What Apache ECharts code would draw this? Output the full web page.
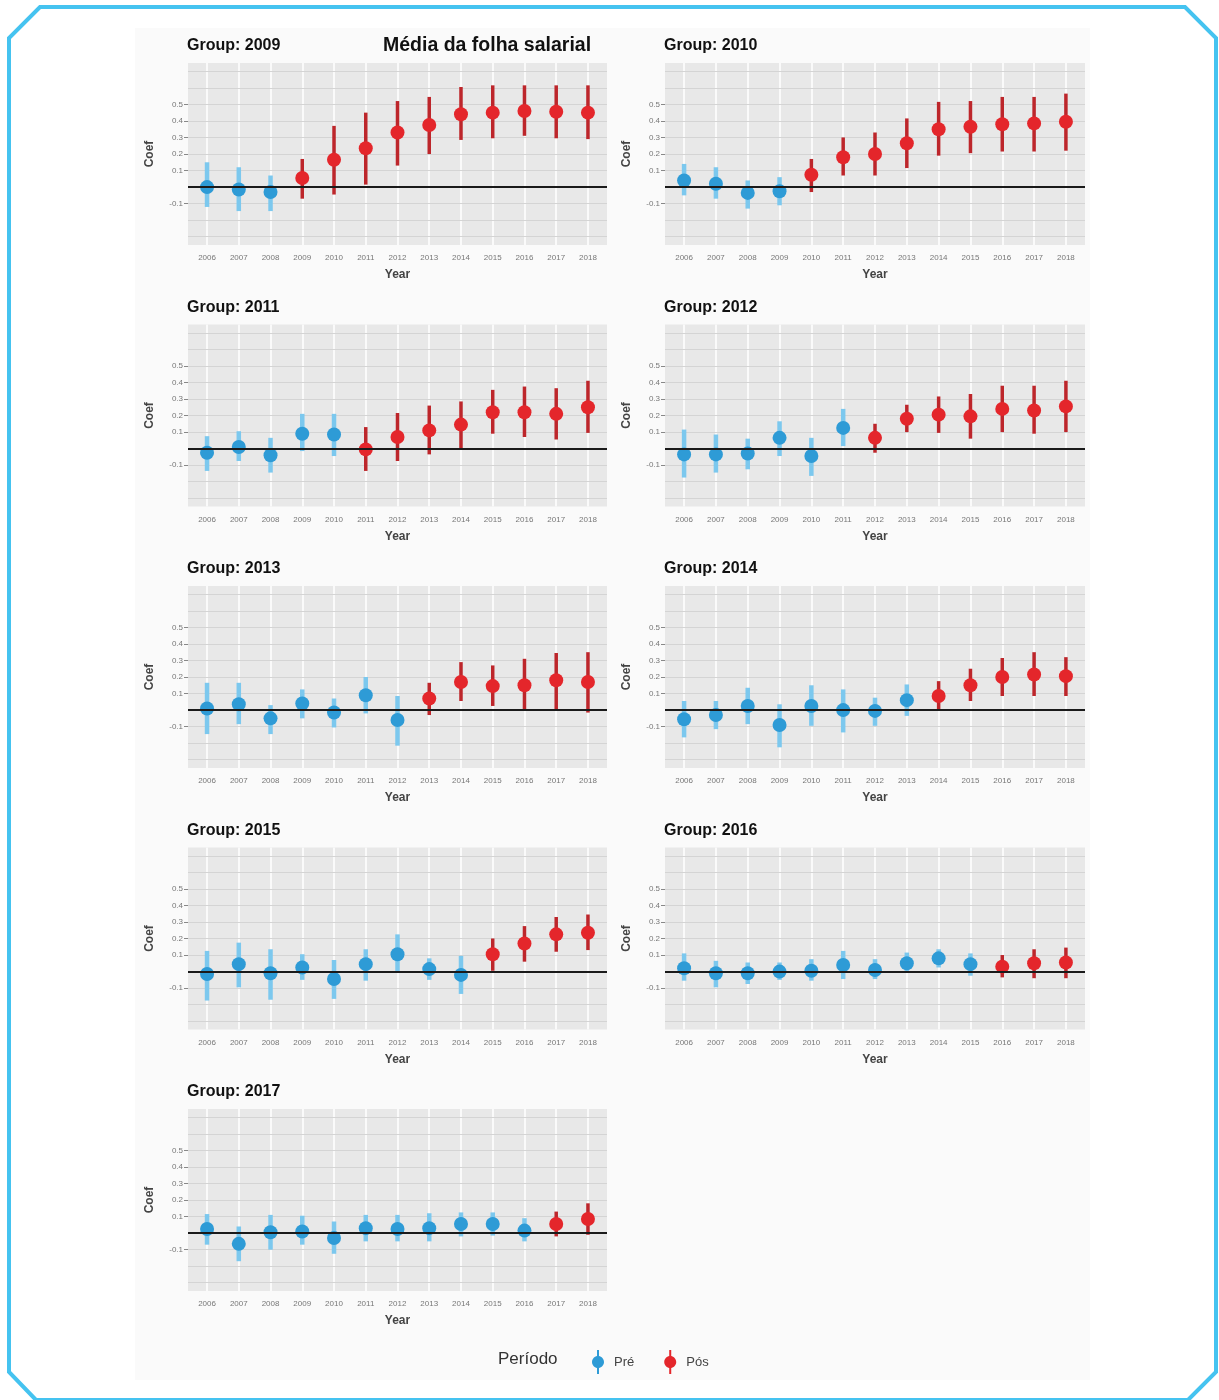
<!DOCTYPE html>
<html>
<head>
<meta charset="utf-8">
<script src="https://cdn.jsdelivr.net/npm/echarts@6/dist/echarts.min.js"></script>
<style>
html,body{margin:0;padding:0;background:#fff;}
#chart{width:1219px;height:1400px;}
</style>
</head>
<body>
<div id="chart"></div>
<script>
// ---------- DATA ----------
const years = [2006,2007,2008,2009,2010,2011,2012,2013,2014,2015,2016,2017,2018];
const groups = [2009,2010,2011,2012,2013,2014,2015,2016,2017];
const yTickValues = [-0.1,0.1,0.2,0.3,0.4,0.5];
const yMajorGrid = [-0.3,-0.2,-0.1,0.1,0.2,0.3,0.4,0.5,0.6,0.7];

const coef2009  = [0.00,-0.015,-0.03,0.055,0.165,0.235,0.33,0.375,0.44,0.45,0.46,0.455,0.45];
const lower2009 = [-0.12,-0.145,-0.145,-0.07,-0.045,0.015,0.13,0.20,0.285,0.295,0.31,0.295,0.29];
const upper2009 = [0.15,0.12,0.07,0.17,0.37,0.45,0.52,0.545,0.605,0.615,0.615,0.615,0.615];

const coef2010  = [0.04,0.02,-0.035,-0.025,0.075,0.18,0.20,0.265,0.35,0.365,0.38,0.385,0.395];
const lower2010 = [-0.05,-0.07,-0.13,-0.11,-0.03,0.07,0.07,0.115,0.19,0.205,0.215,0.215,0.22];
const upper2010 = [0.14,0.12,0.04,0.06,0.17,0.30,0.33,0.415,0.515,0.52,0.545,0.545,0.565];

const coef2011  = [-0.025,0.01,-0.04,0.09,0.085,-0.005,0.07,0.11,0.145,0.22,0.22,0.21,0.25];
const lower2011 = [-0.135,-0.075,-0.145,-0.015,-0.045,-0.135,-0.075,-0.035,-0.005,0.09,0.07,0.055,0.095];
const upper2011 = [0.075,0.105,0.065,0.21,0.21,0.13,0.215,0.26,0.285,0.355,0.375,0.365,0.41];

const coef2012  = [-0.035,-0.035,-0.03,0.065,-0.045,0.125,0.065,0.18,0.205,0.195,0.24,0.23,0.255];
const lower2012 = [-0.175,-0.145,-0.125,-0.045,-0.165,0.015,-0.025,0.10,0.095,0.06,0.10,0.09,0.10];
const upper2012 = [0.115,0.085,0.06,0.165,0.065,0.24,0.15,0.265,0.315,0.33,0.38,0.38,0.41];

const coef2013  = [0.01,0.035,-0.05,0.04,-0.015,0.09,-0.06,0.07,0.17,0.145,0.15,0.18,0.17];
const lower2013 = [-0.145,-0.085,-0.145,-0.05,-0.105,-0.02,-0.215,-0.03,0.055,0.025,0.005,0.005,-0.015];
const upper2013 = [0.165,0.165,0.03,0.125,0.07,0.20,0.085,0.165,0.29,0.27,0.31,0.345,0.35];

const coef2014  = [-0.055,-0.03,0.025,-0.09,0.025,0.00,-0.005,0.06,0.085,0.15,0.20,0.215,0.205];
const lower2014 = [-0.165,-0.115,-0.085,-0.225,-0.095,-0.135,-0.095,-0.035,0.00,0.055,0.085,0.085,0.085];
const upper2014 = [0.055,0.055,0.135,0.035,0.15,0.125,0.075,0.155,0.175,0.25,0.315,0.35,0.32];

const coef2015  = [-0.015,0.045,-0.01,0.025,-0.045,0.045,0.105,0.015,-0.02,0.105,0.17,0.225,0.235];
const lower2015 = [-0.175,-0.095,-0.17,-0.05,-0.165,-0.055,-0.005,-0.05,-0.135,0.005,0.06,0.12,0.13];
const upper2015 = [0.125,0.175,0.135,0.105,0.07,0.135,0.225,0.08,0.095,0.20,0.275,0.33,0.345];

const coef2016  = [0.02,-0.01,-0.01,0.00,0.005,0.04,0.01,0.05,0.08,0.045,0.03,0.05,0.055];
const lower2016 = [-0.055,-0.095,-0.075,-0.05,-0.055,-0.045,-0.045,-0.005,0.025,-0.025,-0.035,-0.04,-0.04];
const upper2016 = [0.11,0.065,0.055,0.055,0.075,0.125,0.075,0.115,0.135,0.11,0.10,0.135,0.145];

const coef2017  = [0.025,-0.065,0.005,0.01,-0.03,0.03,0.025,0.03,0.055,0.055,0.015,0.055,0.085];
const lower2017 = [-0.07,-0.17,-0.10,-0.07,-0.125,-0.05,-0.05,-0.05,-0.02,-0.015,-0.05,-0.02,-0.01];
const upper2017 = [0.115,0.04,0.11,0.105,0.07,0.11,0.11,0.12,0.125,0.125,0.09,0.13,0.18];

const panelCoef  = [coef2009,coef2010,coef2011,coef2012,coef2013,coef2014,coef2015,coef2016,coef2017];
const panelLower = [lower2009,lower2010,lower2011,lower2012,lower2013,lower2014,lower2015,lower2016,lower2017];
const panelUpper = [upper2009,upper2010,upper2011,upper2012,upper2013,upper2014,upper2015,upper2016,upper2017];

// ---------- STYLE ----------
const FONT = "'Liberation Sans', Arial, sans-serif";
const BLUE = '#2e9bd6', BLUE_BAR = '#7cc8ee';
const RED = '#e4262b', RED_BAR = '#bd262b';

const chart = echarts.init(document.getElementById('chart'));

const grids = [], xAxes = [], yAxes = [], series = [], titles = [];
const colLeft = [188, 665], colWidth = [419, 420];
const rowTop0 = 63, rowStep = 261.5, plotH = 182;

function errRender(color, width) {
  return function (params, api) {
    const x = api.value(0), lo = api.value(1), hi = api.value(2);
    const p1 = api.coord([x, lo]);
    const p2 = api.coord([x, hi]);
    return {
      type: 'line',
      shape: { x1: p1[0], y1: p1[1], x2: p2[0], y2: p2[1] },
      style: { stroke: color, lineWidth: width, lineCap: 'butt' }
    };
  };
}

groups.forEach((g, i) => {
  const col = i % 2, row = Math.floor(i / 2);
  const top = rowTop0 + rowStep * row;
  grids.push({
    left: colLeft[col], top: top, width: colWidth[col], height: plotH,
    show: true, backgroundColor: '#e8e8e8', borderWidth: 0, containLabel: false
  });
  xAxes.push({
    type: 'value', gridIndex: i, min: 2005.4, max: 2018.6,
    name: 'Year', nameLocation: 'middle', nameGap: 24,
    nameTextStyle: { fontFamily: FONT, fontSize: 12, fontWeight: 'bold', color: '#444' },
    axisLine: { show: false },
    axisTick: { show: true, customValues: years, length: 3, lineStyle: { color: '#888' } },
    axisLabel: { customValues: years, fontFamily: FONT, fontSize: 8, color: '#777', margin: 9,
                 formatter: v => String(v) },
    splitLine: { show: false }
  });
  yAxes.push({
    type: 'value', gridIndex: i, min: -0.35, max: 0.75, interval: 0.05,
    name: 'Coef', nameLocation: 'middle', nameGap: 32, nameRotate: 90,
    nameTextStyle: { fontFamily: FONT, fontSize: 12, fontWeight: 'bold', color: '#444' },
    axisLine: { show: false },
    axisTick: { show: true, customValues: yTickValues, length: 4, lineStyle: { color: '#888' } },
    axisLabel: { customValues: yTickValues, fontFamily: FONT, fontSize: 8, color: '#777', margin: 5,
                 formatter: v => (Math.round(v * 10) / 10).toFixed(1) },
    splitLine: { show: true, lineStyle: { color: '#f1f1f1', width: 1 } }
  });
  titles.push({
    text: 'Group: ' + g, left: colLeft[col] - 6, top: top - 30,
    textStyle: { fontFamily: FONT, fontSize: 16, fontWeight: 'bold', color: '#111' }
  });

  const c = panelCoef[i], lo = panelLower[i], hi = panelUpper[i];
  const preErr = [], posErr = [], prePt = [], posPt = [];
  years.forEach((y, k) => {
    if (y < g) { preErr.push([y, lo[k], hi[k]]); prePt.push([y, c[k]]); }
    else { posErr.push([y, lo[k], hi[k]]); posPt.push([y, c[k]]); }
  });

  // background gridlines
  series.push({
    type: 'line', xAxisIndex: i, yAxisIndex: i, data: [], silent: true, z: 1,
    markLine: {
      silent: true, symbol: 'none', label: { show: false }, animation: false, z: 1,
      data: [
        ...years.map(y => ({ xAxis: y, lineStyle: { color: '#fafafa', width: 2, type: 'solid' } })),
        ...yMajorGrid.map(v => ({ yAxis: v, lineStyle: { color: '#d4d4d4', width: 1, type: 'solid' } }))
      ]
    }
  });
  series.push({
    name: 'Pré', type: 'custom', xAxisIndex: i, yAxisIndex: i, z: 3,
    renderItem: errRender(BLUE_BAR, 4.5), data: preErr, encode: { x: 0, y: [1, 2] },
    itemStyle: { color: BLUE }
  });
  series.push({
    name: 'Pós', type: 'custom', xAxisIndex: i, yAxisIndex: i, z: 3,
    renderItem: errRender(RED_BAR, 3.5), data: posErr, encode: { x: 0, y: [1, 2] },
    itemStyle: { color: RED }
  });
  series.push({
    name: 'Pré', type: 'scatter', xAxisIndex: i, yAxisIndex: i, z: 4,
    symbolSize: 14, data: prePt, itemStyle: { color: BLUE, opacity: 1 }
  });
  series.push({
    name: 'Pós', type: 'scatter', xAxisIndex: i, yAxisIndex: i, z: 4,
    symbolSize: 14, data: posPt, itemStyle: { color: RED, opacity: 1 }
  });
  // zero reference line (drawn on top, like geom_hline)
  series.push({
    type: 'line', xAxisIndex: i, yAxisIndex: i, data: [], silent: true, z: 6,
    markLine: {
      silent: true, symbol: 'none', label: { show: false }, animation: false, z: 6,
      data: [{ yAxis: 0, lineStyle: { color: '#1a1a1a', width: 2, type: 'solid' } }]
    }
  });
});

titles.push({
  text: 'Média da folha salarial', left: 378, top: 31,
  textStyle: { fontFamily: FONT, fontSize: 19.5, fontWeight: 'bold', color: '#111' }
});

const legendIcon = 'path://M6,0 L8,0 L8,24 L6,24 Z M7,6 C10.3,6 13,8.7 13,12 C13,15.3 10.3,18 7,18 C3.7,18 1,15.3 1,12 C1,8.7 3.7,6 7,6 Z';

const option = {
  animation: false,
  backgroundColor: '#ffffff',
  title: titles,
  grid: grids,
  xAxis: xAxes,
  yAxis: yAxes,
  series: series,
  legend: {
    left: 587, top: 1345, itemGap: 30, itemWidth: 14, itemHeight: 24,
    icon: legendIcon, selectedMode: false,
    textStyle: { fontFamily: FONT, fontSize: 13, color: '#444', padding: [0,0,0,4] },
    data: [
      { name: 'Pré', itemStyle: { color: BLUE } },
      { name: 'Pós', itemStyle: { color: RED } }
    ]
  },
  graphic: [
    { type: 'rect', z: -10, shape: { x: 135, y: 28, width: 955, height: 1352 },
      style: { fill: '#fafafa' }, silent: true },
    { type: 'polygon', z: 100, silent: true,
      shape: { points: [[40,7],[1185,7],[1216,38],[1216,1372],[1188,1400],[36,1400],[9,1372],[9,38]] },
      style: { fill: 'none', stroke: '#45c3f0', lineWidth: 4 } },
    { type: 'text', left: 498, top: 1351, z: 10,
      style: { text: 'Período', fontFamily: FONT, fontSize: 17, fill: '#333' } }
  ]
};
chart.setOption(option);
</script>
</body>
</html>
